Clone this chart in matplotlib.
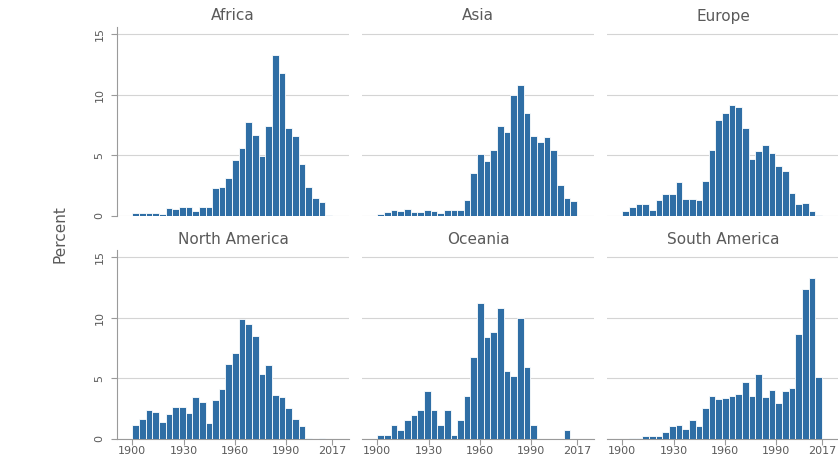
#!/usr/bin/env python3
"""
plot.py

Share of birth years by continent, 30 bins between 1900 and 2017.
Saves the six small-multiple histograms to out.png.
"""

import matplotlib
matplotlib.use("Agg")
import matplotlib.pyplot as plt

# Bin layout (Stata style: 30 bins from 1900 to 2017)
START_YEAR = 1900
END_YEAR = 2017
N_BINS = 30

regions = ["Africa", "Asia", "Europe", "North America", "Oceania", "South America"]

# Percent per bin
africa = [0.25, 0.2, 0.2, 0.2, 0.15, 0.6, 0.55, 0.7, 0.75, 0.4,
          0.7, 0.7, 2.3, 2.4, 3.1, 4.6, 5.6, 7.7, 6.7, 4.9,
          7.4, 13.3, 11.8, 7.2, 6.6, 4.25, 2.4, 1.5, 1.1, 0.08]
asia = [0.1, 0.3, 0.5, 0.35, 0.55, 0.3, 0.3, 0.5, 0.35, 0.2,
        0.5, 0.45, 0.45, 1.3, 3.55, 5.1, 4.5, 5.4, 7.4, 6.9,
        10.0, 10.8, 8.5, 6.6, 6.1, 6.5, 5.4, 2.5, 1.5, 1.2]
europe = [0.35, 0.7, 0.95, 0.95, 0.45, 1.3, 1.75, 1.75, 2.75, 1.4,
          1.35, 1.3, 2.9, 5.4, 7.9, 8.45, 9.1, 9.0, 7.2, 4.7,
          5.3, 5.85, 5.2, 4.1, 3.7, 1.85, 1.0, 1.05, 0.4, 0.08]
north_america = [1.15, 1.6, 2.4, 2.2, 1.35, 2.0, 2.6, 2.6, 2.1, 3.4,
                 3.05, 1.25, 3.15, 4.1, 6.2, 7.1, 9.85, 9.5, 8.45, 5.3,
                 6.05, 3.6, 3.4, 2.55, 1.65, 1.0, 0.08, 0.0, 0.05, 0.0]
oceania = [0.3, 0.3, 1.15, 0.7, 1.5, 1.95, 2.35, 3.95, 2.35, 1.15,
           2.35, 0.28, 1.5, 3.55, 6.75, 11.2, 8.4, 8.8, 10.8, 5.55,
           5.15, 10.0, 5.95, 1.15, 0.0, 0.0, 0.0, 0.0, 0.72, 0.0]
south_america = [0.0, 0.08, 0.03, 0.17, 0.17, 0.17, 0.55, 1.0, 1.1, 0.8,
                 1.55, 1.0, 2.5, 3.55, 3.3, 3.35, 3.55, 3.65, 4.65, 3.5,
                 5.3, 3.4, 4.0, 2.9, 3.9, 4.15, 8.65, 12.4, 13.3, 5.05]

series = [africa, asia, europe, north_america, oceania, south_america]

x_ticks = [1900, 1930, 1960, 1990, 2017]
y_ticks = [0, 5, 10, 15]

BAR_COLOR = '#2f6ea5'
GRID_COLOR = '#d4d4d4'
AXIS_COLOR = '#9a9a9a'
TEXT_COLOR = '#5a5a5a'

W, H = 838, 455


def setup_plot_style() -> None:
    plt.rcParams['font.family'] = ['DejaVu Sans']
    plt.rcParams['xtick.color'] = AXIS_COLOR
    plt.rcParams['ytick.color'] = AXIS_COLOR
    plt.rcParams['xtick.labelcolor'] = TEXT_COLOR
    plt.rcParams['ytick.labelcolor'] = TEXT_COLOR


def px_axes(fig, left, top, right, bottom):
    """Add axes from pixel edges (origin top-left)."""
    return fig.add_axes([left / W, 1 - bottom / H, (right - left) / W, (bottom - top) / H])


def draw_panel(ax, values, show_x, show_y) -> None:
    width = (END_YEAR - START_YEAR) / N_BINS
    edges = [START_YEAR + i * width for i in range(N_BINS)]

    for g in y_ticks:
        ax.axhline(g, color=GRID_COLOR, lw=0.8, zorder=0)

    ax.bar(edges, values, width=width, align='edge', color=BAR_COLOR,
           edgecolor='white', linewidth=0.6, zorder=3)

    ax.set_xlim(1891, 2027)
    ax.set_ylim(0, 15.6)

    for side in ['top', 'right']:
        ax.spines[side].set_visible(False)

    ax.spines['left'].set_visible(show_y)
    ax.spines['left'].set_color(AXIS_COLOR)
    ax.spines['left'].set_linewidth(0.8)
    ax.spines['bottom'].set_visible(show_x)
    ax.spines['bottom'].set_color(AXIS_COLOR)
    ax.spines['bottom'].set_linewidth(0.8)

    if show_y:
        ax.set_yticks(y_ticks)
        ax.set_yticklabels([str(t) for t in y_ticks], rotation=90, va='center', fontsize=8)
        ax.tick_params(axis='y', length=4, width=0.8, pad=5)
    else:
        ax.set_yticks([])

    if show_x:
        ax.set_xticks(x_ticks)
        ax.set_xticklabels([str(t) for t in x_ticks], fontsize=8)
        ax.tick_params(axis='x', length=4, width=0.8, pad=1.5)
    else:
        ax.set_xticks([])

    ax.patch.set_alpha(0)


def main() -> None:
    setup_plot_style()
    fig = plt.figure(figsize=(W / 100, H / 100), dpi=100)
    fig.patch.set_facecolor('white')

    cols = [(117, 349), (362, 594), (607, 839)]
    rows = [(26.7, 215.7), (250, 438.5)]
    title_y = [16, 239]

    for i, (name, values) in enumerate(zip(regions, series)):
        r, c = divmod(i, 3)
        left, right = cols[c]
        top, bottom = rows[r]
        ax = px_axes(fig, left, top, right, bottom)
        draw_panel(ax, values, show_x=(r == 1), show_y=(c == 0))
        fig.text((left + right) / 2 / W, 1 - title_y[r] / H, name,
                 ha='center', va='center', fontsize=11, color=TEXT_COLOR)

    fig.text(60 / W, 1 - 234 / H, "Percent", rotation=90, ha='center', va='center',
             fontsize=11, color=TEXT_COLOR)

    fig.savefig("out.png", dpi=100, facecolor='white')
    plt.close(fig)


if __name__ == "__main__":
    main()
